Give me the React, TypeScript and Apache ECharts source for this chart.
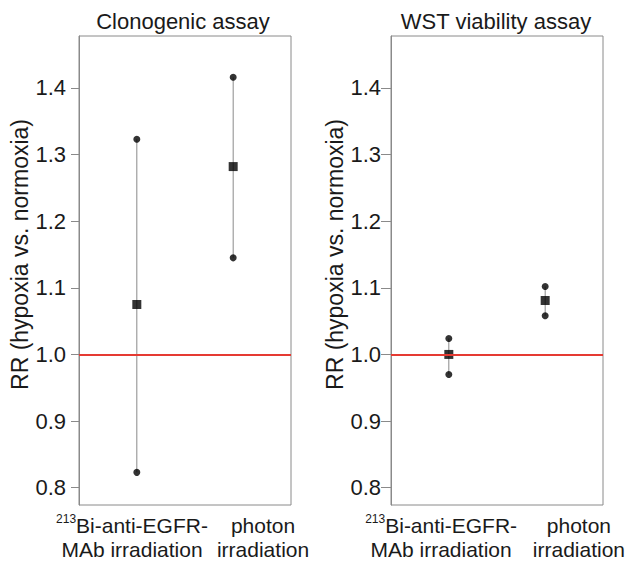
import React, { useEffect, useRef } from "react";
import * as echarts from "echarts";

const panelTitles = ["Clonogenic assay", "WST viability assay"];
const yAxisName = "RR (hypoxia vs. normoxia)";
const categoryLabels = [
  "{sup|213}{n|Bi-anti-EGFR-}\n{n|MAb irradiation}",
  "{n|photon}\n{n|irradiation}",
];
const yTicks = [0.8, 0.9, 1.0, 1.1, 1.2, 1.3, 1.4];
const referenceLine = 1.0;

const clonoMean = [1.075, 1.282];
const clonoLow = [0.823, 1.145];
const clonoHigh = [1.323, 1.416];

const wstMean = [1.0, 1.081];
const wstLow = [0.97, 1.058];
const wstHigh = [1.024, 1.102];

const groupX = [1, 2];
const labelPosLeft = [0.95, 2.31];
const labelPosRight = [0.92, 2.35];

const FONT = "Liberation Sans, Arial, sans-serif";
const TEXT = "#1a1a1a";
const GRAY = "#8a8a8a";

function buildPanel(idx: number, mean: number[], low: number[], high: number[]) {
  const whisker = groupX.map((x, i) => [x, low[i], high[i]]);
  const ends: number[][] = [];
  groupX.forEach((x, i) => {
    ends.push([x, low[i]]);
    ends.push([x, high[i]]);
  });
  const means = groupX.map((x, i) => [x, mean[i]]);
  return [
    {
      type: "custom",
      xAxisIndex: idx * 2,
      yAxisIndex: idx,
      data: whisker,
      renderItem: (params: any, api: any) => {
        const p1 = api.coord([api.value(0), api.value(1)]);
        const p2 = api.coord([api.value(0), api.value(2)]);
        return {
          type: "line",
          shape: { x1: p1[0], y1: p1[1], x2: p2[0], y2: p2[1] },
          style: { stroke: GRAY, lineWidth: 1 },
        };
      },
      markLine: {
        silent: true,
        symbol: "none",
        label: { show: false },
        lineStyle: { color: "#e53a32", width: 2, type: "solid" },
        data: [{ yAxis: referenceLine }],
      },
      z: 2,
    },
    {
      type: "scatter",
      xAxisIndex: idx * 2,
      yAxisIndex: idx,
      data: ends,
      symbol: "circle",
      symbolSize: 7,
      itemStyle: { color: "#000" },
      z: 3,
    },
    {
      type: "scatter",
      xAxisIndex: idx * 2,
      yAxisIndex: idx,
      data: means,
      symbol: "rect",
      symbolSize: 9,
      itemStyle: { color: "#000" },
      z: 4,
    },
  ];
}

function yAxisFor(idx: number, tickLen: number, margin: number, nameGap: number) {
  return {
    type: "value",
    gridIndex: idx,
    min: 0.774,
    max: 1.478,
    name: yAxisName,
    nameLocation: "middle",
    nameGap,
    nameTextStyle: {
      fontSize: 23,
      color: TEXT,
      fontFamily: FONT,
      padding: [0, 0, 0, 32],
    },
    axisLine: { show: true, lineStyle: { color: GRAY, width: 1 } },
    axisTick: {
      show: true,
      length: tickLen,
      customValues: yTicks,
      lineStyle: { color: GRAY, width: 1 },
    },
    axisLabel: {
      customValues: yTicks,
      margin,
      fontSize: 22,
      color: TEXT,
      fontFamily: FONT,
      formatter: (v: number) => v.toFixed(1),
    },
    splitLine: { show: false },
  };
}

function dataXAxis(idx: number) {
  return {
    type: "value",
    gridIndex: idx,
    min: 0.4,
    max: 2.6,
    position: "top",
    show: false,
  };
}

function labelXAxis(idx: number, pos: number[]) {
  return {
    type: "value",
    gridIndex: idx,
    min: 0.4,
    max: 2.6,
    position: "bottom",
    axisLine: { show: false },
    axisTick: { show: false },
    splitLine: { show: false },
    axisLabel: {
      customValues: pos,
      margin: 8,
      interval: 0,
      formatter: (v: number) => {
        const i = Math.abs(v - pos[0]) < Math.abs(v - pos[1]) ? 0 : 1;
        return categoryLabels[i];
      },
      rich: {
        n: { fontSize: 21, lineHeight: 24, color: TEXT, fontFamily: FONT },
        sup: {
          fontSize: 12,
          lineHeight: 12,
          verticalAlign: "top",
          color: TEXT,
          fontFamily: FONT,
        },
      },
    },
  };
}

export default function App() {
  const ref = useRef<HTMLDivElement>(null);
  useEffect(() => {
    if (!ref.current) return;
    const chart = echarts.init(ref.current, null, { renderer: "svg" });
    chart.setOption({
      animation: false,
      backgroundColor: "#fff",
      title: [
        {
          text: panelTitles[0],
          left: 178,
          top: 5,
          textAlign: "center",
          textStyle: { fontSize: 22, fontWeight: "normal", color: TEXT, fontFamily: FONT },
        },
        {
          text: panelTitles[1],
          left: 491,
          top: 5,
          textAlign: "center",
          textStyle: { fontSize: 22, fontWeight: "normal", color: TEXT, fontFamily: FONT },
        },
      ],
      grid: [
        { left: 79, top: 36, width: 212, height: 469, show: true, borderColor: GRAY, borderWidth: 1, backgroundColor: "transparent" },
        { left: 391, top: 36, width: 212, height: 469, show: true, borderColor: GRAY, borderWidth: 1, backgroundColor: "transparent" },
      ],
      xAxis: [dataXAxis(0), labelXAxis(0, labelPosLeft), dataXAxis(1), labelXAxis(1, labelPosRight)],
      yAxis: [yAxisFor(0, 8, 13, 46), yAxisFor(1, 10, 10, 44)],
      series: [
        ...buildPanel(0, clonoMean, clonoLow, clonoHigh),
        ...buildPanel(1, wstMean, wstLow, wstHigh),
      ],
    });
    return () => chart.dispose();
  }, []);
  return (
    <div
      ref={ref}
      style={{ position: "fixed", left: 0, top: 0, width: 629, height: 561 }}
    />
  );
}
